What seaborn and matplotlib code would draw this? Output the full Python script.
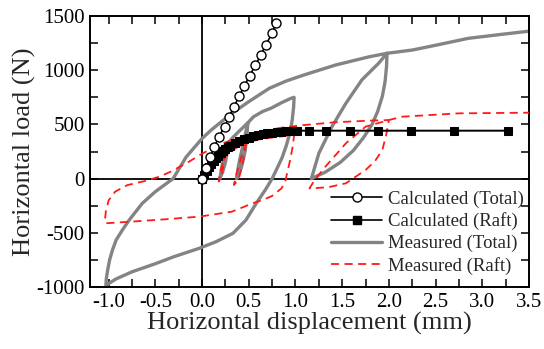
import numpy as np
import pandas as pd
import matplotlib
matplotlib.use("Agg")
import matplotlib.pyplot as plt
from matplotlib.ticker import MultipleLocator, FuncFormatter
from matplotlib.lines import Line2D
import seaborn as sns

# ---------------- data ----------------
calc_total_x = [0.0, 0.04, 0.085, 0.13, 0.18, 0.24, 0.29, 0.34, 0.40, 0.45, 0.51, 0.57, 0.63, 0.68, 0.75, 0.79]
calc_total_y = [0, 95, 196, 289, 387, 479, 571, 663, 762, 854, 947, 1048, 1140, 1232, 1340, 1438]

calc_raft_x = [0.0, 0.025, 0.05, 0.075, 0.10, 0.125, 0.15, 0.175, 0.20, 0.225, 0.25, 0.275, 0.30,
               0.35, 0.40, 0.45, 0.50, 0.55, 0.60, 0.65, 0.70, 0.75, 0.80, 0.85, 0.90, 0.95, 1.00,
               1.02, 1.145, 1.33, 1.58, 1.88, 2.24, 2.70, 3.27]
calc_raft_y = [0, 35, 70, 103, 135, 163, 190, 213, 235, 255, 272, 288, 302,
               327, 348, 365, 379, 391, 401, 410, 417, 423, 428, 432, 435, 438, 440,
               442, 442, 442, 442, 442, 442, 442, 442]

meas_total_x = [0.0, 0.05, 0.10, 0.15, 0.20, 0.25, 0.28,
                0.27, 0.25, 0.22, 0.19,
                0.21, 0.24, 0.28, 0.33, 0.40, 0.49,
                0.48, 0.46, 0.42, 0.37,
                0.39, 0.43, 0.46, 0.49, 0.55, 0.65, 0.74, 0.85, 0.95, 0.985,
                0.98, 0.965, 0.94, 0.90, 0.855, 0.80, 0.75, 0.68, 0.58, 0.47, 0.33, 0.15, -0.03, -0.30, -0.50, -0.75, -0.92, -1.03,
                -1.025, -1.01, -0.99, -0.96, -0.92, -0.85, -0.78, -0.64, -0.50, -0.31, -0.17, 0.0, 0.10, 0.30, 0.50, 0.72, 0.90, 1.09, 1.43, 1.79, 1.98,
                1.975, 1.96, 1.93, 1.88, 1.82, 1.73, 1.62, 1.48, 1.32, 1.17,
                1.25, 1.39, 1.54, 1.71, 1.89, 1.98,
                2.25, 2.50, 2.85, 3.20, 3.50]
meas_total_y = [0, 90, 165, 225, 275, 310, 330,
                250, 150, 60, 0,
                100, 220, 330, 380, 440, 515,
                400, 250, 100, 0,
                120, 280, 400, 515, 570, 620, 650, 700, 740, 750,
                660, 540, 420, 300, 190, 90, 0, -100, -228, -382, -505, -582, -643, -720, -785, -860, -925, -985,
                -920, -840, -750, -660, -566, -470, -382, -228, -120, 0, 200, 370, 450, 590, 710, 833, 900, 956, 1048, 1124, 1156,
                1040, 900, 760, 620, 500, 380, 260, 150, 60, 0,
                233, 479, 695, 910, 1064, 1156,
                1186, 1230, 1294, 1330, 1360]

meas_raft_x = [0.0, 0.05, 0.10, 0.15, 0.20, 0.24,
               0.23, 0.21, 0.18,
               0.20, 0.23, 0.26, 0.30, 0.40, 0.47,
               0.46, 0.43, 0.40, 0.36, 0.34,
               0.37, 0.42, 0.47, 0.60, 0.80, 0.985,
               0.97, 0.94, 0.91, 0.89, 0.85, 0.75, 0.65, 0.54, 0.32, -0.03, -0.39, -0.74, -1.03,
               -1.04, -1.03, -1.00, -0.93, -0.80, -0.60, -0.45, -0.32, -0.28, -0.14, 0.0, 0.22, 0.45, 0.63, 0.85, 1.09, 1.43, 1.80, 2.00,
               1.97, 1.93, 1.85, 1.75, 1.54, 1.35, 1.18, 1.15,
               1.20, 1.32, 1.54, 1.75, 2.00,
               2.14, 2.75, 3.50]
meas_raft_y = [0, 60, 110, 150, 180, 200,
               120, 40, -28,
               80, 170, 220, 250, 300, 330,
               250, 120, 20, -40, -59,
               50, 200, 330, 360, 385, 402,
               294, 160, 50, -30, -90, -160, -197, -228, -305, -351, -375, -396, -412,
               -382, -300, -200, -120, -60, -20, 20, 70, 90, 156, 230, 326, 390, 433, 470, 494, 520, 535, 540,
               400, 264, 160, 79, -43, -80, -89, -90,
               -20, 110, 326, 479, 540,
               571, 602, 608]

x_ticks = [-1.0, -0.5, 0.0, 0.5, 1.0, 1.5, 2.0, 2.5, 3.0, 3.5]
y_ticks = [-1000, -500, 0, 500, 1000, 1500]

labels = ["Calculated (Total)", "Calculated (Raft)", "Measured (Total)", "Measured (Raft)"]

# ---------------- style ----------------
sns.set_style("ticks")
plt.rcParams["font.family"] = ["Liberation Serif", "DejaVu Serif"]
plt.rcParams["axes.unicode_minus"] = False

fig = plt.figure(figsize=(5.44, 3.49), dpi=100)
ax = fig.add_axes([90 / 544, 1 - 287 / 349, (529 - 90) / 544, (287 - 16) / 349])

# zero lines
ax.axhline(0, color="black", lw=1.3, zorder=1)
ax.axvline(0, color="black", lw=1.3, zorder=1)

gray = "#848484"
red = "#ff1a1a"

sns.lineplot(x=meas_total_x, y=meas_total_y, sort=False, estimator=None, ax=ax,
             color=gray, lw=2.4, zorder=2)
sns.lineplot(x=meas_raft_x, y=meas_raft_y, sort=False, estimator=None, ax=ax,
             color=red, lw=1.3, dashes=False, zorder=3, linestyle=(0, (4.5, 3)))
sns.lineplot(x=calc_raft_x, y=calc_raft_y, sort=False, estimator=None, ax=ax,
             color="black", lw=1.4, marker="s", markersize=6, markerfacecolor="black",
             markeredgecolor="black", zorder=4)
sns.lineplot(x=calc_total_x, y=calc_total_y, sort=False, estimator=None, ax=ax,
             color="black", lw=1.2, marker="o", markersize=6.5, markerfacecolor="white",
             markeredgecolor="black", markeredgewidth=1.0, zorder=5)

ax.set_xlim(-1.2, 3.5)
ax.set_ylim(-1000, 1500)
ax.set_xticks(x_ticks)
ax.set_yticks(y_ticks)
ax.xaxis.set_minor_locator(MultipleLocator(0.25))
ax.yaxis.set_minor_locator(MultipleLocator(250))
ax.xaxis.set_major_formatter(FuncFormatter(lambda v, p: f"{v:.1f}"))
ax.yaxis.set_major_formatter(FuncFormatter(lambda v, p: f"{int(round(v))}"))
ax.tick_params(which="both", direction="in", top=True, right=True, length=6, width=1.1,
               colors="black", labelsize=15, pad=4)
for s in ax.spines.values():
    s.set_linewidth(1.4)
    s.set_color("black")

ax.set_xlabel("Horizontal displacement (mm)", fontsize=19, labelpad=0)
ax.set_ylabel("Horizontal load (N)", fontsize=19, labelpad=0)

handles = [
    Line2D([], [], color="black", lw=1.2, marker="o", markersize=6.5, markerfacecolor="white", markeredgecolor="black"),
    Line2D([], [], color="black", lw=1.2, marker="s", markersize=6, markerfacecolor="black"),
    Line2D([], [], color=gray, lw=2.4),
    Line2D([], [], color=red, lw=1.3, linestyle=(0, (4.5, 3))),
]
leg = ax.legend(handles, labels, loc="lower right", bbox_to_anchor=(1.015, 0.0), frameon=False,
                fontsize=13.5, handlelength=2.7, handletextpad=0.3, labelspacing=0.25,
                borderaxespad=0.25)

fig.savefig("out.png", dpi=100)
